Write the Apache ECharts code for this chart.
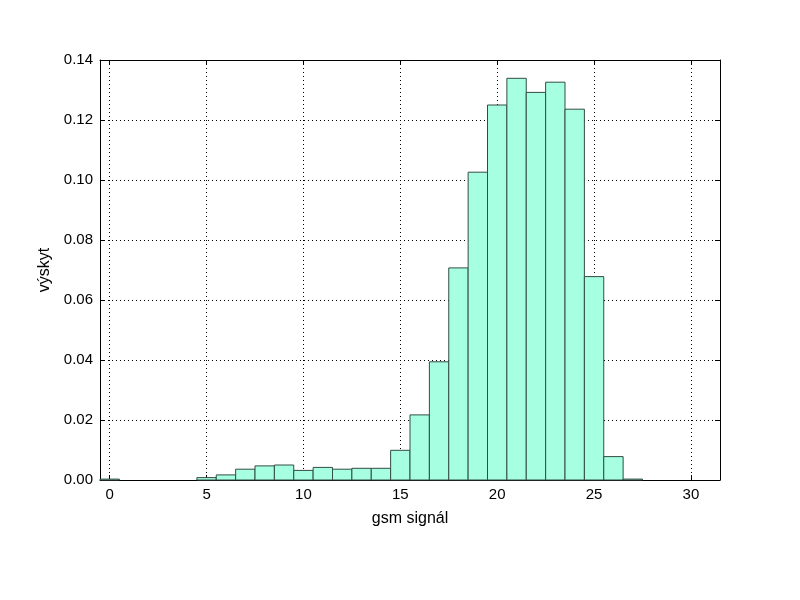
<!DOCTYPE html>
<html>
<head>
<meta charset="utf-8">
<script src="https://cdn.jsdelivr.net/npm/echarts@6/dist/echarts.min.js"></script>
<style>html,body{margin:0;padding:0;background:#fff}#c{width:800px;height:600px}</style>
</head>
<body>
<div id="c"></div>
<script>
var binCenters = [0,1,2,3,4,5,6,7,8,9,10,11,12,13,14,15,16,17,18,19,20,21,22,23,24,25,26,27,28,29,30,31];
var frequencies = [0.0003,0,0,0,0,0.0008,0.0017,0.0036,0.0047,0.0050,0.0032,0.0042,0.0036,0.0039,0.0039,0.0099,0.0217,0.0394,0.0707,0.1026,0.1250,0.1339,0.1292,0.1326,0.1236,0.0678,0.0078,0.0003,0,0,0,0];
var xTicks = [0,5,10,15,20,25,30];
var xTitle = 'gsm signál';
var yTitle = 'výskyt';

var font = "'Liberation Sans', Arial, sans-serif";
var data = binCenters.map(function(c,i){return [c, frequencies[i]];});
var chart = echarts.init(document.getElementById('c'));
var gridLine = {show:true, lineStyle:{color:'#000', type:[1,3], width:1}};
chart.setOption({
  animation:false,
  textStyle:{fontFamily:font},
  grid:{left:100, top:60, width:620, height:420, containLabel:false},
  xAxis:[{
    type:'value', min:-0.5, max:31.5, position:'bottom',
    name:xTitle, nameLocation:'middle', nameGap:31,
    nameTextStyle:{color:'#000', fontSize:16, fontFamily:font},
    axisLine:{show:true, onZero:false, lineStyle:{color:'#000', width:1}},
    axisTick:{show:true, inside:true, length:5, customValues:xTicks, lineStyle:{color:'#000'}},
    axisLabel:{show:true, customValues:xTicks, color:'#000', fontSize:15, margin:7, fontFamily:font},
    splitLine:gridLine
  },{
    type:'value', min:-0.5, max:31.5, position:'top',
    axisLine:{show:true, onZero:false, lineStyle:{color:'#000', width:1}},
    axisTick:{show:true, inside:true, length:5, customValues:xTicks, lineStyle:{color:'#000'}},
    axisLabel:{show:false},
    splitLine:{show:false}
  }],
  yAxis:[{
    type:'value', min:0, max:0.14, interval:0.02, position:'left',
    name:yTitle, nameLocation:'middle', nameGap:43, nameRotate:90,
    nameTextStyle:{color:'#000', fontSize:16, fontFamily:font},
    axisLine:{show:true, onZero:false, lineStyle:{color:'#000', width:1}},
    axisTick:{show:true, inside:true, length:5, lineStyle:{color:'#000'}},
    axisLabel:{show:true, color:'#000', fontSize:15, margin:7, fontFamily:font,
      formatter:function(v){return v.toFixed(2);}},
    splitLine:gridLine
  },{
    type:'value', min:0, max:0.14, interval:0.02, position:'right',
    axisLine:{show:true, onZero:false, lineStyle:{color:'#000', width:1}},
    axisTick:{show:true, inside:true, length:5, lineStyle:{color:'#000'}},
    axisLabel:{show:false},
    splitLine:{show:false}
  }],
  series:[{
    type:'custom', xAxisIndex:0, yAxisIndex:0,
    data:data,
    encode:{x:0, y:1},
    renderItem:function(params, api){
      var x = api.value(0), y = api.value(1);
      if (!(y > 0)) return null;
      var p0 = api.coord([x-0.5, 0]);
      var p1 = api.coord([x+0.5, y]);
      return {type:'rect',
        shape:{x:p0[0], y:p1[1], width:p1[0]-p0[0], height:p0[1]-p1[1]},
        style:{fill:'#a5ffe0', stroke:'#324d44', lineWidth:1}};
    }
  }]
});
</script>
</body>
</html>
